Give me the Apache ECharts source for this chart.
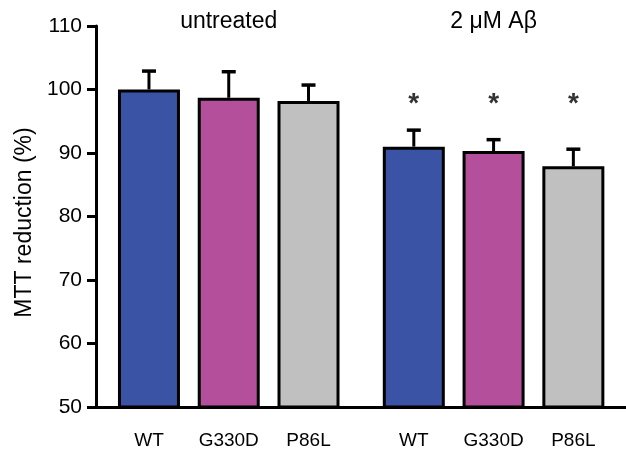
<!DOCTYPE html>
<html>
<head>
<meta charset="utf-8">
<script src="https://cdn.jsdelivr.net/npm/echarts@6/dist/echarts.min.js"></script>
<style>
html,body{margin:0;padding:0;background:#fff;}
#main{width:626px;height:451px;}
</style>
</head>
<body>
<div id="main"></div>
<script>
// ---- data ----
const categories = ['WT', 'G330D', 'P86L', 'WT', 'G330D', 'P86L'];
const xPos = [0, 1, 2, 3.32, 4.32, 5.32];
const means = [100.0, 98.7, 98.2, 91.0, 90.3, 87.9];
const errors = [2.9, 4.1, 2.5, 2.6, 1.8, 2.7];
const colors = ['#3a53a4', '#b34f9b', '#c0c0c0', '#3a53a4', '#b34f9b', '#c0c0c0'];
const significant = [false, false, false, true, true, true];
const starY = 97.6;
const groupLabels = ['untreated', '2 \u03bcM A\u03b2'];
const groupCenters = [1, 4.32];
const yTicks = [50, 60, 70, 80, 90, 100, 110];

const font = 'Liberation Sans, Arial, sans-serif';
const chart = echarts.init(document.getElementById('main'));

const barData = means.map((v, i) => ({
  value: [xPos[i], v],
  itemStyle: { color: colors[i] }
}));
const errData = means.map((v, i) => [xPos[i], v, v + errors[i]]);
const starData = xPos.filter((x, i) => significant[i]).map(x => [x, starY]);

const xMin = -0.664, xMax = 5.98;

chart.setOption({
  animation: false,
  grid: { left: 96, right: 0, top: 26, bottom: 44 },
  xAxis: [{
    type: 'value', min: xMin, max: xMax, position: 'bottom',
    splitLine: { show: false },
    axisLine: { show: true, onZero: false, lineStyle: { color: '#000', width: 3 } },
    axisTick: { show: false },
    axisLabel: {
      customValues: xPos,
      formatter: v => { const i = xPos.findIndex(p => Math.abs(p - v) < 1e-6); return i >= 0 ? categories[i] : ''; },
      color: '#000', fontSize: 19, fontFamily: font, margin: 24
    }
  }, {
    type: 'value', min: xMin, max: xMax, position: 'top',
    splitLine: { show: false },
    axisLine: { show: false, onZero: false },
    axisTick: { show: false },
    axisLabel: {
      customValues: groupCenters,
      formatter: v => { const i = groupCenters.findIndex(p => Math.abs(p - v) < 1e-6); return i >= 0 ? groupLabels[i] : ''; },
      color: '#000', fontSize: 23, fontFamily: font, margin: -7
    }
  }],
  yAxis: {
    type: 'value', min: 50, max: 110, interval: 10,
    name: 'MTT reduction (%)', nameLocation: 'middle', nameGap: 56, nameRotate: 90,
    nameTextStyle: { color: '#000', fontSize: 23, fontFamily: font, padding: [0, 12, 0, 0] },
    splitLine: { show: false },
    axisLine: { show: true, onZero: false, lineStyle: { color: '#000', width: 3 } },
    axisTick: { show: true, length: 9, lineStyle: { color: '#000', width: 3 } },
    axisLabel: { color: '#000', fontSize: 21, fontFamily: font, margin: 14,
      formatter: v => yTicks.includes(v) ? String(v) : '' }
  },
  series: [{
    type: 'custom',
    xAxisIndex: 0,
    data: errData,
    z: 1,
    renderItem: (params, api) => {
      const x = api.value(0);
      const top = api.coord([x, api.value(1)]);
      const hi = api.coord([x, api.value(2)]);
      const hw = 7;
      return {
        type: 'group',
        children: [
          { type: 'line', shape: { x1: top[0], y1: top[1], x2: hi[0], y2: hi[1] }, style: { stroke: '#000', lineWidth: 3 } },
          { type: 'line', shape: { x1: hi[0] - hw, y1: hi[1], x2: hi[0] + hw, y2: hi[1] }, style: { stroke: '#000', lineWidth: 3.5 } }
        ]
      };
    }
  }, {
    type: 'bar',
    xAxisIndex: 0,
    data: barData,
    barWidth: 62,
    z: 2,
    itemStyle: { borderColor: '#000', borderWidth: 3 }
  }, {
    type: 'scatter',
    xAxisIndex: 0,
    data: starData,
    symbolSize: 1,
    itemStyle: { color: 'rgba(0,0,0,0)' },
    label: { show: true, position: 'inside', formatter: '*', color: '#000', fontSize: 28, fontWeight: 'bold', fontFamily: font }
  }]
});
</script>
</body>
</html>
